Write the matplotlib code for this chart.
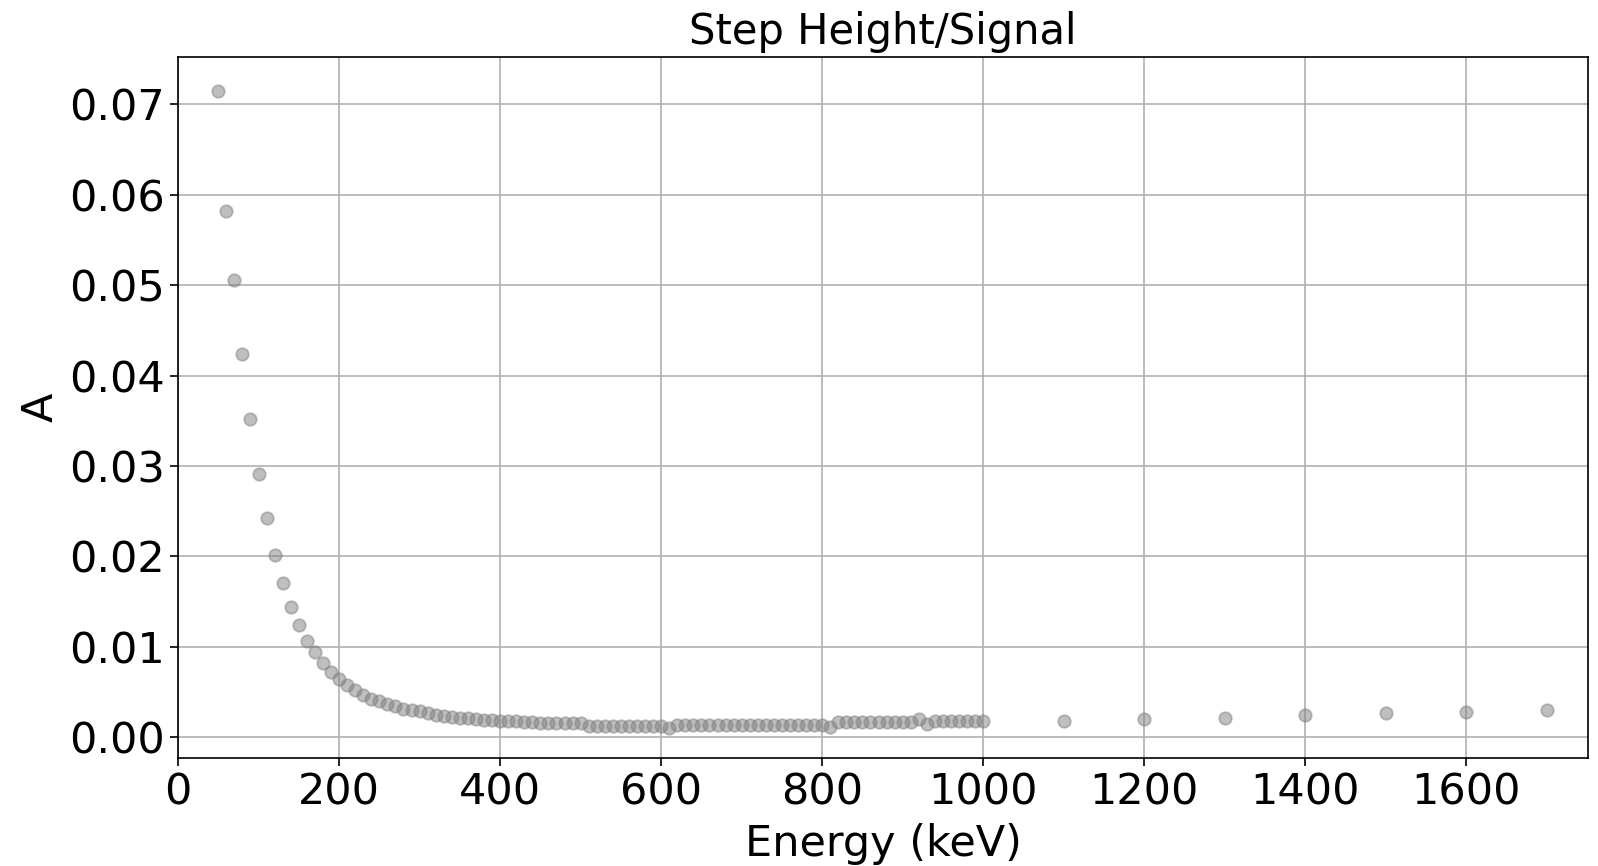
import matplotlib
matplotlib.use("Agg")
import matplotlib.pyplot as plt
import numpy as np

energy_low = list(range(50, 1001, 10))
energy_high = [1100, 1200, 1300, 1400, 1500, 1600, 1700]

a_low = [
    0.0714, 0.0582, 0.0505, 0.0424, 0.0352, 0.0291, 0.0243, 0.0202, 0.0171, 0.0144,  # 50-140
    0.0124, 0.0107, 0.0094, 0.0082, 0.0072, 0.0065, 0.0058, 0.0052, 0.0047, 0.0043,  # 150-240
    0.0040, 0.0037, 0.0035, 0.0032, 0.0030, 0.0029, 0.0027, 0.0025, 0.0024, 0.0023,  # 250-340
    0.0022, 0.0021, 0.0020, 0.0019, 0.0019, 0.0018, 0.0018, 0.0018, 0.0017, 0.0017,  # 350-440
    0.0016, 0.0016, 0.0016, 0.0016, 0.0016, 0.0016, 0.0013, 0.0013, 0.0013, 0.0013,  # 450-540
    0.0013, 0.0013, 0.0013, 0.0013, 0.0013, 0.0013, 0.0010, 0.0014, 0.0014, 0.0014,  # 550-640
    0.0014, 0.0014, 0.0014, 0.0014, 0.0014, 0.0014, 0.0014, 0.0014, 0.0014, 0.0014,  # 650-740
    0.0014, 0.0014, 0.0014, 0.0014, 0.0014, 0.0014, 0.0012, 0.0017, 0.0017, 0.0017,  # 750-840
    0.0017, 0.0017, 0.0017, 0.0017, 0.0017, 0.0017, 0.0017, 0.0020, 0.0015, 0.0018,  # 850-940
    0.0018, 0.0018, 0.0018, 0.0018, 0.0018, 0.0018,                                  # 950-1000
]
a_high = [0.0018, 0.0020, 0.0021, 0.0025, 0.0027, 0.0028, 0.0030]

energy = energy_low + energy_high
amp = a_low + a_high

fig = plt.figure(figsize=(15.98, 8.66), dpi=100)
ax = fig.add_axes([0.1114, 0.1244, 0.8823, 0.8098])
ax.plot(energy, amp, "o", color="gray", alpha=0.5, markersize=9,
        markeredgewidth=1.3, linestyle="none", zorder=3)
ax.set_xlim(0, 1751)
ax.set_ylim(-0.0023, 0.0752)
ax.set_xticks([0, 200, 400, 600, 800, 1000, 1200, 1400, 1600])
ax.set_yticks([0.0, 0.01, 0.02, 0.03, 0.04, 0.05, 0.06, 0.07])
ax.set_yticklabels(["0.00", "0.01", "0.02", "0.03", "0.04", "0.05", "0.06", "0.07"])
ax.grid(True, color="#b0b0b0", linewidth=1.2)
ax.set_axisbelow(True)
ax.tick_params(labelsize=31, length=6, width=1.2)
ax.set_xlabel("Energy (keV)", fontsize=31, labelpad=7)
ax.set_ylabel("A", fontsize=31, labelpad=5)
ax.set_title("Step Height/Signal", fontsize=30, pad=9)
for sp in ax.spines.values():
    sp.set_linewidth(1.2)
fig.savefig("out.png", dpi=100)
